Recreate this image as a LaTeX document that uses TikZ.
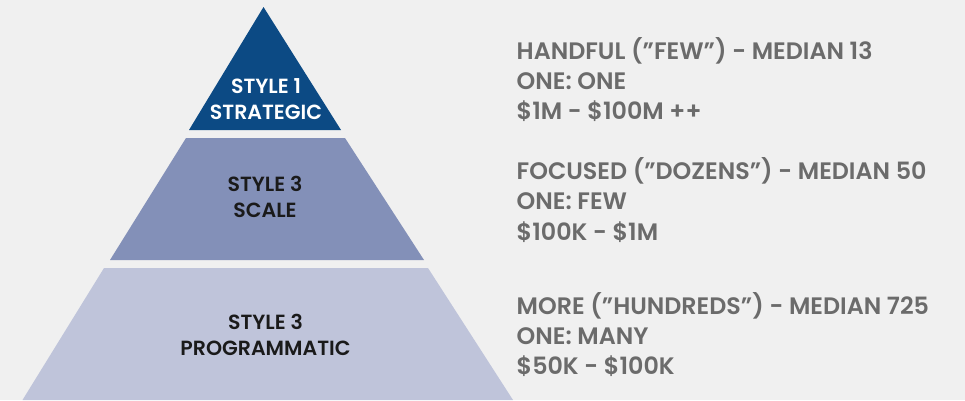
\documentclass[tikz,border=0pt]{standalone}
\usepackage{fontspec}
\setmainfont{Poppins}[BoldFont={* SemiBold}]
\usepackage{xcolor}
\definecolor{PageBg}{HTML}{F0F0F0}
\definecolor{TierTop}{HTML}{0C4A84}
\definecolor{TierMid}{HTML}{8390B8}
\definecolor{TierLow}{HTML}{BFC4DA}
\definecolor{NoteGray}{HTML}{6B6B6B}
\definecolor{Ink}{HTML}{1A1A1A}
\tikzset{
  tierlabel/.style={align=center,inner sep=0pt,font=\fontsize{20.5}{26}\selectfont\bfseries},
  noteline/.style={anchor=base west,inner sep=0pt,text=NoteGray,font=\fontsize{23.8}{30}\selectfont\bfseries}
}

\begin{document}
\begin{tikzpicture}[x=1pt,y=-1pt]
    \fill[PageBg] (0,0) rectangle (965,400);
    \useasboundingbox (0,0) rectangle (965,400);
    % pyramid tiers
    \fill[TierTop] (263.5,7) -- (341,130) -- (189,130) -- cycle;
    \fill[TierMid] (186,138) -- (345,138) -- (424,260) -- (110,260) -- cycle;
    \fill[TierLow] (104,268) -- (428,268) -- (513,400) -- (22.5,400) -- cycle;
    \node[tierlabel,text=white] (strategic) at (266,99) {STYLE 1\\STRATEGIC};
    \node[tierlabel,text=Ink] (scale) at (265,196.5) {STYLE 3\\SCALE};
    \node[tierlabel,text=Ink] (programmatic) at (265.5,334.5) {STYLE 3\\PROGRAMMATIC};
    % notes on the right
    \node[noteline] (few) at (516.5,59.3) {HANDFUL (”FEW”) - MEDIAN 13};
    \node[noteline] (fewratio) at (516.5,89.3) {ONE: ONE};
    \node[noteline] (fewsize) at (516.5,119) {\$1M - \$100M ++};
    \node[noteline] (dozens) at (516.5,179.3) {FOCUSED (”DOZENS”) - MEDIAN 50};
    \node[noteline] (dozensratio) at (516.5,209) {ONE: FEW};
    \node[noteline] (dozenssize) at (516.5,240) {\$100K - \$1M};
    \node[noteline] (hundreds) at (516.5,314.3) {MORE (”HUNDREDS”) - MEDIAN 725};
    \node[noteline] (hundredsratio) at (516.5,344.3) {ONE: MANY};
    \node[noteline] (hundredssize) at (516.5,374) {\$50K - \$100K};
\end{tikzpicture}
\end{document}
